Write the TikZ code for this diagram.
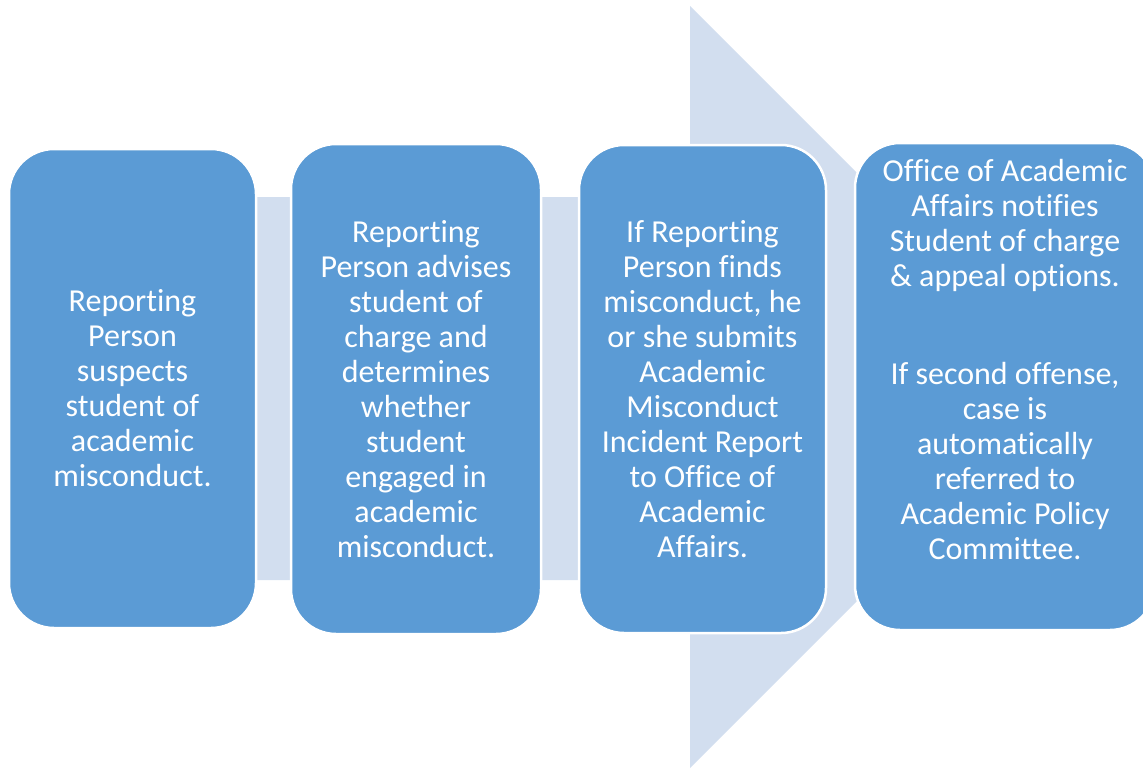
\documentclass[tikz,border=0pt]{standalone}
\usepackage{fontspec}
\setmainfont{Carlito}[RawFeature={-liga;-clig;-rlig;-dlig;-calt}]
\usepackage{xcolor}
\usepackage{tikz}

\definecolor{boxblue}{RGB}{91,155,213}
\definecolor{arrowblue}{RGB}{210,222,239}

\begin{document}
\begin{tikzpicture}[x=1pt,y=-1pt,
  stepbox/.style={draw=white, line width=2.5pt, fill=boxblue, rounded corners=45pt,
    text=white, align=center, inner sep=0pt, font=\fontsize{32}{35}\selectfont}]
  \useasboundingbox (0,0) rectangle (1143,769);
  \clip (0,0) rectangle (1143,769);
  \fill[arrowblue] (140,197) -- (690,197) -- (690,6) -- (1071,387) -- (690,768) -- (690,580) -- (140,580) -- cycle;
  \node[stepbox, minimum width=247pt, minimum height=479pt] (b1) at (132.5,388.5)
    {Reporting\\Person\\suspects\\student of\\academic\\misconduct.};
  \node[stepbox, minimum width=250pt, minimum height=490pt] (b2) at (416,389)
    {Reporting\\Person advises\\student of\\charge and\\determines\\whether\\student\\engaged in\\academic\\misconduct.};
  \node[stepbox, minimum width=247pt, minimum height=488pt] (b3) at (702.5,389)
    {If Reporting\\Person finds\\misconduct, he\\or she submits\\Academic\\Misconduct\\Incident Report\\to Office of\\Academic\\Affairs.};
  \node[stepbox, minimum width=300pt, minimum height=487pt] (b4) at (1005,386.5) {};
  \node[text=white, align=center, inner sep=0pt, font=\fontsize{32}{35}\selectfont] (t4) at (1005,360)
    {Office of Academic\\Affairs notifies\\Student of charge\\\& appeal options.\\[63pt]If second offense,\\case is\\automatically\\referred to\\Academic Policy\\Committee.};
\end{tikzpicture}
\end{document}
